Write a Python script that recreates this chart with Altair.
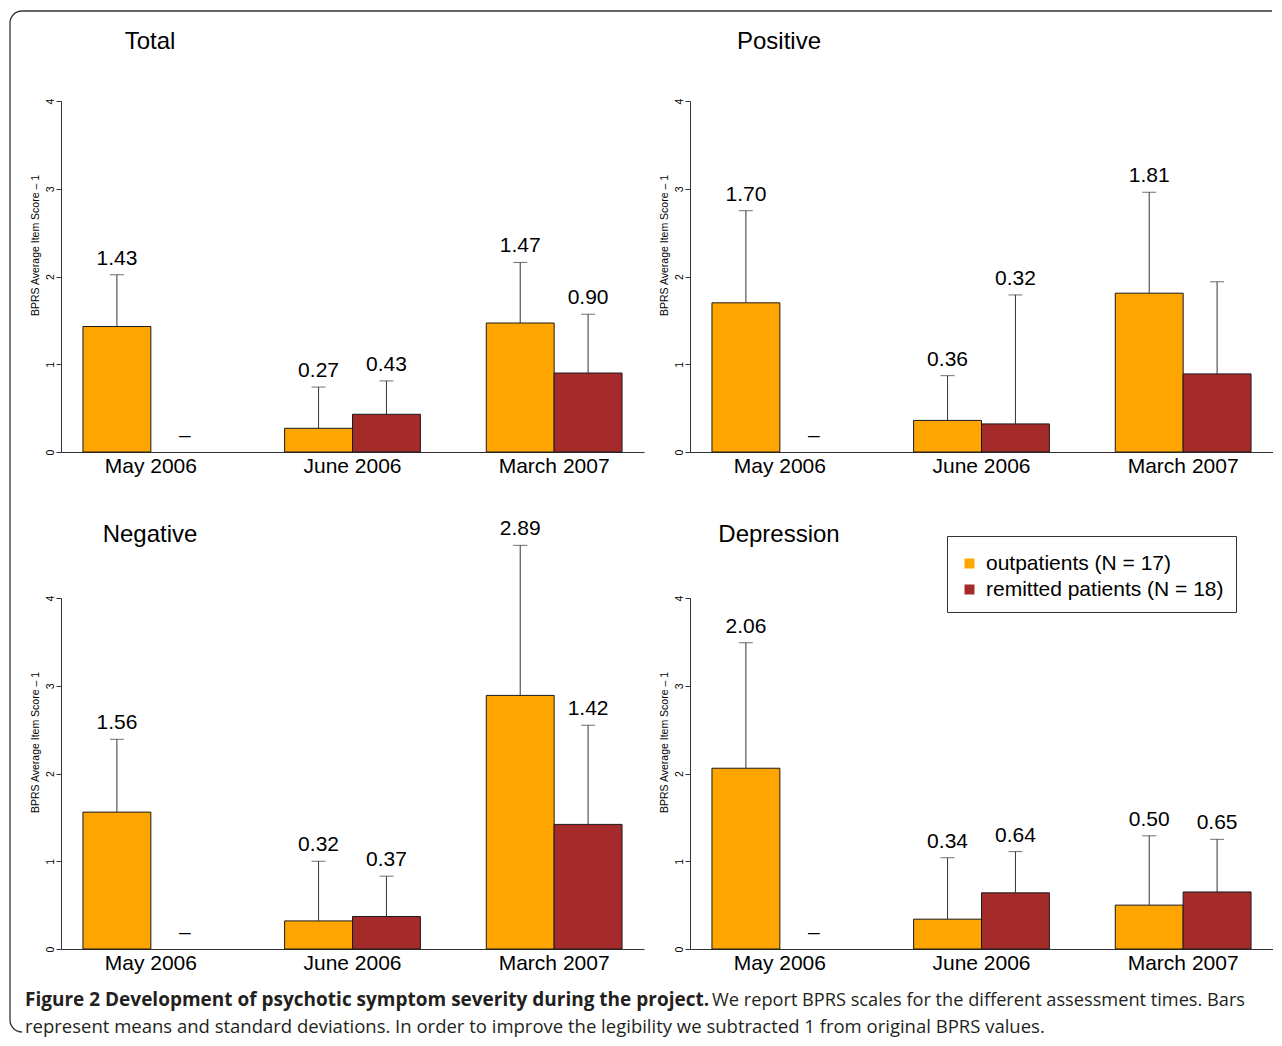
import math
import altair as alt
import pandas as pd

# ---------------- data ----------------
periods = ["May 2006", "June 2006", "March 2007"]
groups = ["outpatients (N = 17)", "remitted patients (N = 18)"]
colors = ["#FFA500", "#A52A2A"]

# order of values: May out, May rem, June out, June rem, March out, March rem
total_mean = [1.43, None, 0.27, 0.43, 1.47, 0.90]
total_sd = [0.59, None, 0.47, 0.38, 0.69, 0.67]
total_lab = ["1.43", "–", "0.27", "0.43", "1.47", "0.90"]

positive_mean = [1.70, None, 0.36, 0.32, 1.81, 0.89]
positive_sd = [1.05, None, 0.51, 1.47, 1.15, 1.05]
positive_lab = ["1.70", "–", "0.36", "0.32", "1.81", ""]

negative_mean = [1.56, None, 0.32, 0.37, 2.89, 1.42]
negative_sd = [0.83, None, 0.68, 0.46, 1.71, 1.13]
negative_lab = ["1.56", "–", "0.32", "0.37", "2.89", "1.42"]

depression_mean = [2.06, None, 0.34, 0.64, 0.50, 0.65]
depression_sd = [1.43, None, 0.70, 0.47, 0.79, 0.60]
depression_lab = ["2.06", "–", "0.34", "0.64", "0.50", "0.65"]

y_ticks = [0, 1, 2, 3, 4]
y_title = "BPRS Average Item Score – 1"

caption_bold = "Figure 2 Development of psychotic symptom severity during the project."
caption_rest1 = "We report BPRS scales for the different assessment times. Bars"
caption_line2 = ("represent means and standard deviations. In order to improve the legibility "
                 "we subtracted 1 from original BPRS values.")

FONT = "Liberation Sans"
CAP_FONT = "Open Sans"
W, H = 583, 351
FRAME = "#333333"

one = pd.DataFrame({"k": [0]})


def make_df(means, sds, labels):
    rows = []
    for i, (m, s, l) in enumerate(zip(means, sds, labels)):
        up = None if m is None else m + s
        rows.append(dict(period=periods[i // 2], group=groups[i % 2], mean=m,
                         upper=up, laby=(0.0 if up is None else up), label=l))
    return pd.DataFrame(rows)


def panel(title, means, sds, labels, title_offset, legend=False, extra=None):
    df = make_df(means, sds, labels)
    base = alt.Chart(df)
    x = alt.X("period:N", sort=periods,
              scale=alt.Scale(paddingInner=0.3267, paddingOuter=0.1089),
              axis=alt.Axis(title=None, ticks=False, labelAngle=0, labelFontSize=21,
                            labelPadding=3, labelBaseline="top", labelFont=FONT,
                            labelColor="black", domainColor="#333", domainWidth=1))
    xo = alt.XOffset("group:N", sort=groups,
                     scale=alt.Scale(paddingInner=0, paddingOuter=0))
    yscale = alt.Scale(domain=[0, 4], nice=False, zero=True)
    yaxis = alt.Axis(values=y_ticks, tickSize=5, labelAngle=270, labelAlign="center",
                     labelBaseline="alphabetic", labelPadding=3, labelFontSize=10.5,
                     labelFont=FONT, labelColor="black", grid=False,
                     domainColor="#333", tickColor="#333", title=y_title,
                     titleFontSize=10.5, titleFontWeight="normal", titleFont=FONT,
                     titleColor="black", titleX=-26, titleY=144, titleAngle=270,
                     titleAlign="center", titleBaseline="middle")
    if legend:
        leg = alt.Legend(title="\u00a0", titleFontSize=2, titlePadding=3,
                         orient="none", legendX=257, legendY=-62,
                         symbolType="square", symbolSize=100, symbolStrokeWidth=0,
                         labelFontSize=21, labelFont=FONT, labelColor="black",
                         labelLimit=0, labelOffset=6, padding=12, rowPadding=4,
                         strokeColor="#333", fillColor="white")
        color = alt.Color("group:N", sort=groups,
                          scale=alt.Scale(domain=groups, range=colors), legend=leg)
    else:
        color = alt.Color("group:N", sort=groups,
                          scale=alt.Scale(domain=groups, range=colors), legend=None)

    bars = base.mark_bar(stroke="#1a1a1a", strokeWidth=1).encode(
        x=x, xOffset=xo, y=alt.Y("mean:Q", scale=yscale, axis=yaxis), color=color)
    err = base.mark_rule(color="#333", strokeWidth=1).encode(
        x=x, xOffset=xo, y=alt.Y("mean:Q", scale=yscale, axis=yaxis), y2="upper:Q")
    cap = base.mark_tick(color="#333", thickness=1, size=14, orient="horizontal").encode(
        x=x, xOffset=xo, y=alt.Y("upper:Q", scale=yscale, axis=yaxis))
    txt = base.mark_text(fontSize=21, font=FONT, dy=-10, baseline="alphabetic",
                         color="black").encode(
        x=x, xOffset=xo, y=alt.Y("laby:Q", scale=yscale, axis=yaxis), text="label:N")
    ttl = alt.Chart(one).mark_text(fontSize=24, font=FONT, align="center",
                                   baseline="alphabetic", color="black").encode(
        x=alt.value(89), y=alt.value(-title_offset), text=alt.value(title))
    layers = [bars, err, cap, txt, ttl]
    if extra:
        layers += extra
    return alt.layer(*layers).properties(width=W, height=H)


# decorative page frame (open towards right/bottom, as in the cropped original)
FL, FT, FR, FB, R = -51, -587, 1211, 434, 12
frame_top = alt.Chart(one).mark_rule(color=FRAME, strokeWidth=1.3).encode(
    x=alt.value(FL + R), x2=alt.value(FR), y=alt.value(FT))
frame_left = alt.Chart(one).mark_rule(color=FRAME, strokeWidth=1.3).encode(
    x=alt.value(FL), y=alt.value(FT + R), y2=alt.value(FB - R))
corner_tl = alt.Chart(one).mark_arc(radius=R + 0.65, innerRadius=R - 0.65,
                                    theta=1.5 * math.pi, theta2=2 * math.pi,
                                    color=FRAME).encode(
    x=alt.value(FL + R), y=alt.value(FT + R))
corner_bl = alt.Chart(one).mark_arc(radius=R + 0.65, innerRadius=R - 0.65,
                                    theta=math.pi, theta2=1.5 * math.pi,
                                    color=FRAME).encode(
    x=alt.value(FL + R), y=alt.value(FB - R))

cap1 = alt.Chart(one).mark_text(align="left", baseline="alphabetic", font=CAP_FONT,
                                fontSize=19, fontWeight="bold", color="#231f20").encode(
    x=alt.value(-36), y=alt.value(408), text=alt.value(caption_bold))
cap2 = alt.Chart(one).mark_text(align="left", baseline="alphabetic", font=CAP_FONT,
                                fontSize=18.2, color="#231f20").encode(
    x=alt.value(651), y=alt.value(408), text=alt.value(caption_rest1))
cap3 = alt.Chart(one).mark_text(align="left", baseline="alphabetic", font=CAP_FONT,
                                fontSize=18.5, color="#231f20").encode(
    x=alt.value(-36), y=alt.value(435), text=alt.value(caption_line2))

p1 = panel("Total", total_mean, total_sd, total_lab, 52)
p2 = panel("Positive", positive_mean, positive_sd, positive_lab, 52)
p3 = panel("Negative", negative_mean, negative_sd, negative_lab, 56,
           extra=[frame_top, frame_left, corner_tl, corner_bl, cap1, cap2, cap3])
p4 = panel("Depression", depression_mean, depression_sd, depression_lab, 56, legend=True)

chart = alt.concat(
    p1, p2, p3, p4, columns=2,
    spacing={"row": 146, "column": 46}, bounds="flush",
    padding={"left": 1, "top": 2, "right": 0, "bottom": 0},
).resolve_scale(
    x="independent", y="independent", color="independent"
).resolve_legend(color="independent").configure(font=FONT).configure_view(
    stroke="transparent", strokeWidth=0)

chart.save("out.html", embed_options={"renderer": "svg", "actions": False})
